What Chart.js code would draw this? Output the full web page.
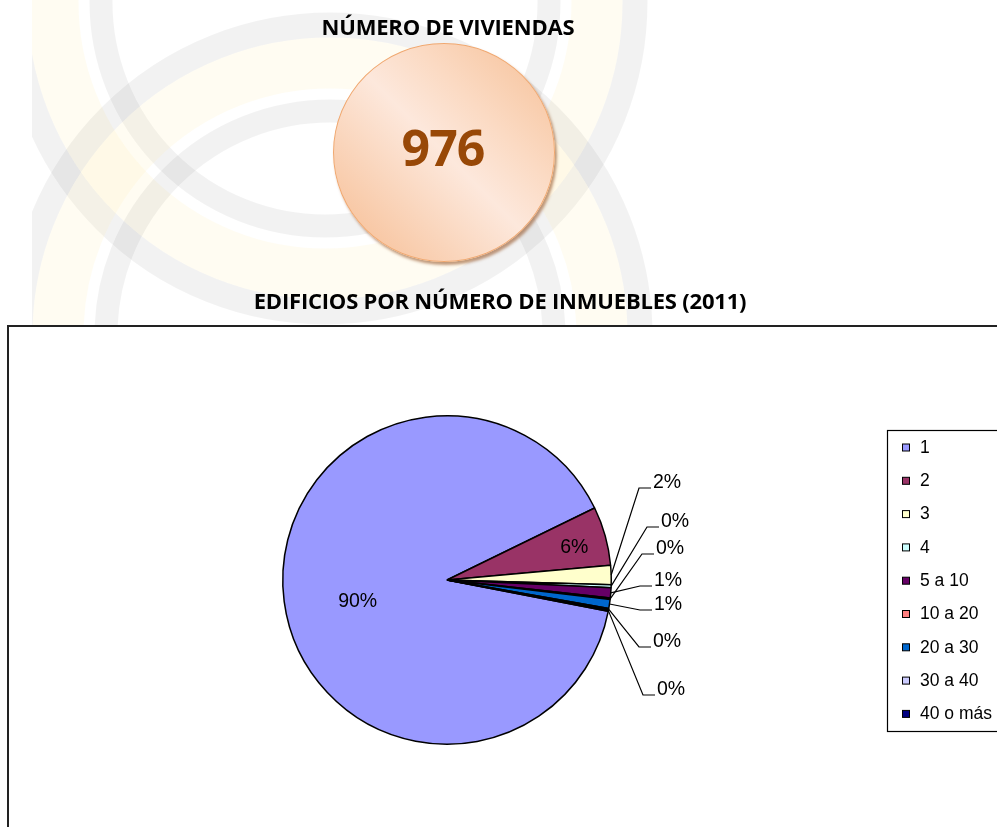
<!DOCTYPE html>
<html>
<head>
<meta charset="utf-8">
<script src="https://cdn.jsdelivr.net/npm/chart.js@4.4.1/dist/chart.umd.min.js"></script>
<style>
html, body { margin: 0; padding: 0; width: 997px; height: 827px; overflow: hidden; background: #fff; }
#bg { position: absolute; left: 0; top: 0; }
.title { position: absolute; font-family: "Open Sans", sans-serif; font-weight: 700; color: #000; white-space: nowrap; transform: translateX(-50%); }
#t1 { left: 448px; top: 11px; font-size: 22px; letter-spacing: -0.2px; }
#t2 { left: 500px; top: 285px; font-size: 22px; letter-spacing: -0.2px; }
#bubble {
    position: absolute; left: 333px; top: 43px; width: 220px; height: 217px; border-radius: 50%;
    background: linear-gradient(45deg, #f6bb8f 0%, #fad6bd 30%, #fde8dc 50%, #fbdac3 68%, #f6bf95 100%);
    border: 1px solid #f0a870;
    box-shadow: 2px 3px 3px rgba(150, 85, 40, 0.6);
}
#num { position: absolute; left: 443px; top: 113px; font-family: "Open Sans", sans-serif; font-weight: 700; font-size: 50px; color: #984807; transform: translateX(-50%); letter-spacing: -1px; }
#box { position: absolute; left: 7px; top: 325px; width: 1000px; height: 520px; border-left: 2px solid #222; border-top: 2px solid #222; background: #fff; }
#myChart { position: absolute; left: 0; top: 0; }
</style>
</head>
<body>
<canvas id="bg" width="997" height="325"></canvas>
<div class="title" id="t1">NÚMERO DE VIVIENDAS</div>
<div id="bubble"></div>
<div id="num">976</div>
<div class="title" id="t2">EDIFICIOS POR NÚMERO DE INMUEBLES (2011)</div>
<div id="box"><canvas id="myChart" width="988" height="500"></canvas></div>
<script>
// data
const categories = ['1', '2', '3', '4', '5 a 10', '10 a 20', '20 a 30', '30 a 40', '40 o más'];
const buildings = [620, 40, 13, 2, 7, 1, 6, 1, 1];
const sliceColors = ['#9999ff', '#993366', '#ffffcc', '#ccffff', '#660066', '#ff8080', '#0066cc', '#ccccff', '#000080'];
// order in which the small slices get their callout rows (top to bottom)
const calloutOrder = [2, 3, 5, 4, 6, 7, 8];

// watermark rings behind the header
(function() {
    var c = document.getElementById('bg').getContext('2d');
    c.save();
    c.beginPath();
    c.rect(32, 0, 965, 325);
    c.clip();
    function rings(cx, cy) {
        c.lineWidth = 51;
        c.strokeStyle = 'rgba(255,235,170,0.15)';
        c.beginPath(); c.arc(cx, cy, 272, 0, Math.PI * 2); c.stroke();
        c.strokeStyle = 'rgba(0,0,0,0.05)';
        c.lineWidth = 23;
        c.beginPath(); c.arc(cx, cy, 224, 0, Math.PI * 2); c.stroke();
        c.lineWidth = 25;
        c.beginPath(); c.arc(cx, cy, 310, 0, Math.PI * 2); c.stroke();
    }
    rings(325, 2);
    rings(330, 335);
    c.restore();
})();

function pct(i) {
    const total = buildings.reduce((a, b) => a + b, 0);
    return Math.round(buildings[i] / total * 100) + '%';
}

const labelPlugin = {
    id: 'sliceLabels',
    afterDatasetsDraw(chart) {
        const ctx = chart.ctx;
        const arcs = chart.getDatasetMeta(0).data;
        const total = buildings.reduce((a, b) => a + b, 0);
        ctx.save();
        ctx.font = '19.5px "Liberation Sans", Arial, sans-serif';
        ctx.fillStyle = '#000';
        ctx.textBaseline = 'middle';
        // inside labels for the big slices
        arcs.forEach(function(arc, i) {
            const share = buildings[i] / total;
            if (share < 0.04) return;
            const mid = (arc.startAngle + arc.endAngle) / 2 + (share > 0.5 ? -0.11 : 0.02);
            const r = arc.outerRadius * (share > 0.5 ? 0.56 : 0.8);
            ctx.textAlign = 'center';
            ctx.fillText(pct(i), arc.x + Math.cos(mid) * r, arc.y + Math.sin(mid) * r);
        });
        // callouts for the small ones
        const rowDy = [-97, -58, -31, 1, 25, 62, 110];
        const rowDx = [192, 200, 195, 193, 193, 192, 196];
        ctx.strokeStyle = '#000';
        ctx.lineWidth = 1.2;
        calloutOrder.forEach(function(i, row) {
            const arc = arcs[i];
            const mid = (arc.startAngle + arc.endAngle) / 2;
            const sx = arc.x + Math.cos(mid) * arc.outerRadius;
            const sy = arc.y + Math.sin(mid) * arc.outerRadius;
            const ex = arc.x + rowDx[row];
            const ey = arc.y + rowDy[row] + 5;
            ctx.beginPath();
            ctx.moveTo(sx, sy);
            ctx.lineTo(ex, ey);
            ctx.lineTo(ex + 12, ey);
            ctx.stroke();
            ctx.textAlign = 'left';
            ctx.fillText(pct(i), ex + 14, arc.y + rowDy[row]);
        });
        ctx.restore();
    },
    afterDraw(chart) {
        // legend box on the right, partly cut by the page edge
        const ctx = chart.ctx;
        ctx.save();
        ctx.strokeStyle = '#000';
        ctx.lineWidth = 1.2;
        ctx.strokeRect(878.5, 103.5, 200, 301);
        ctx.lineWidth = 1;
        ctx.font = '17.5px "Liberation Sans", Arial, sans-serif';
        ctx.textBaseline = 'middle';
        ctx.textAlign = 'left';
        categories.forEach(function(name, i) {
            const y = 121 + i * 33.3;
            ctx.fillStyle = sliceColors[i];
            ctx.fillRect(893.5, y - 4, 7, 7);
            ctx.strokeRect(893.5, y - 4, 7, 7);
            ctx.fillStyle = '#000';
            ctx.fillText(name, 911, y);
        });
        ctx.restore();
    }
};

(function() {
    var el = document.querySelector('#myChart');
    new Chart(el, {
        type: 'pie',
        data: {
            labels: categories,
            datasets: [{
                data: buildings,
                backgroundColor: sliceColors,
                borderColor: '#000',
                borderWidth: 1.5,
                hoverOffset: 0
            }]
        },
        options: {
            responsive: false,
            animation: false,
            rotation: -259,
            layout: { padding: { left: 273, top: 88, right: 385, bottom: 82 } },
            plugins: {
                legend: { display: false },
                tooltip: { enabled: false }
            }
        },
        plugins: [labelPlugin]
    });
})();
</script>
</body>
</html>
